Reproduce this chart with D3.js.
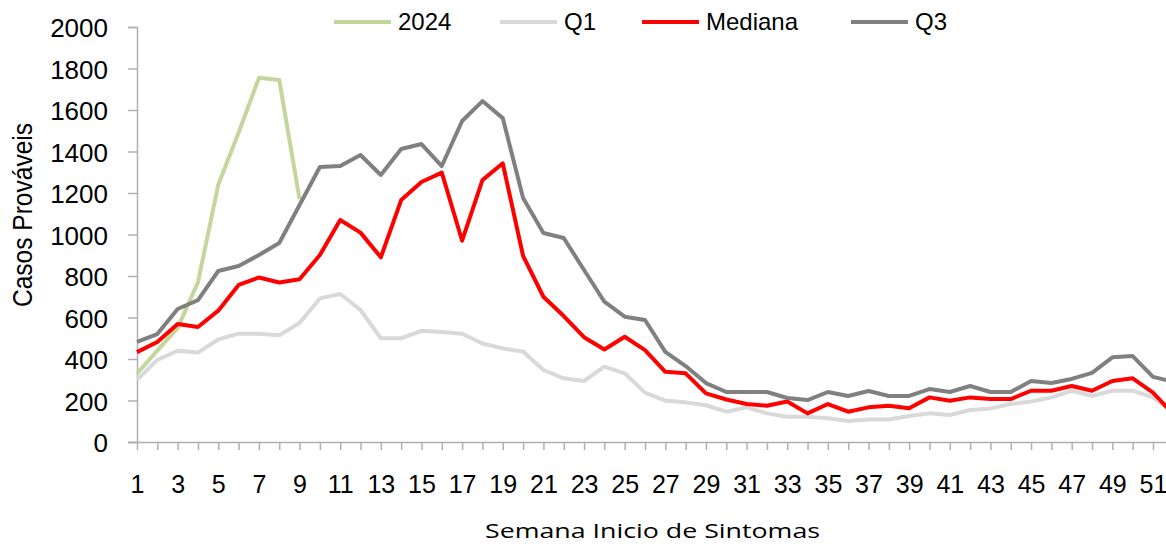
<!DOCTYPE html>
<html>
<head>
<meta charset="utf-8">
<script src="https://cdn.jsdelivr.net/npm/d3@7"></script>
<style>
  body { margin: 0; background: #fff; }
  svg { display: block; }
  text { font-family: "Liberation Sans", Arial, sans-serif; fill: #000; }
</style>
</head>
<body>
<svg id="chart"></svg>
<script>
const weeks = d3.range(1, 53);
const yTicks = [0, 200, 400, 600, 800, 1000, 1200, 1400, 1600, 1800, 2000];

const cases2024 = [330, 440, 550, 770, 1240, 1490, 1755, 1745, 1170];

const q1 = [300, 396, 440, 431, 494, 522, 522, 514, 574, 692,
  713, 636, 500, 500, 536, 530, 522, 475, 451, 436,
  347, 307, 294, 363, 331, 238, 199, 191, 177, 146,
  167, 138, 122, 122, 114, 101, 108, 108, 125, 138,
  130, 154, 162, 183, 195, 215, 247, 222, 247, 247,
  215, 140];

const mediana = [433, 482, 569, 554, 633, 757, 793, 769, 784, 901,
  1070, 1009, 890, 1166, 1253, 1298, 970, 1262, 1343, 897,
  700, 607, 505, 446, 507, 443, 338, 331, 234, 205,
  183, 175, 195, 138, 183, 146, 167, 175, 163, 215,
  199, 215, 207, 207, 247, 247, 270, 247, 294, 307,
  238, 135];

const q3 = [482, 520, 641, 684, 824, 848, 901, 959, 1142, 1325,
  1330, 1383, 1287, 1412, 1436, 1330, 1547, 1643, 1561, 1176,
  1007, 983, 829, 676, 604, 588, 434, 366, 284, 241,
  241, 241, 212, 202, 241, 222, 246, 222, 222, 255,
  241, 270, 241, 241, 294, 284, 304, 333, 408, 414,
  314, 290];

const series = [
  { name: "2024", values: cases2024, color: "#c3d69b" },
  { name: "Q1", values: q1, color: "#d9d9d9" },
  { name: "Mediana", values: mediana, color: "#ff0000" },
  { name: "Q3", values: q3, color: "#808080" }
];

const width = 1166;
const height = 545;
const plotLeft = 137;
const plotTop = 27;
const plotBottom = 442;
const step = 20.32;

const svg = d3.select("#chart").attr("width", width).attr("height", height);

const x = d3.scalePoint()
  .domain(weeks)
  .range([plotLeft, plotLeft + step * (weeks.length - 1)]);

const y = d3.scaleLinear()
  .domain([0, 2000])
  .range([plotBottom, plotTop]);

// y axis
const yAxis = svg.append("g")
  .attr("transform", `translate(${plotLeft},0)`)
  .call(d3.axisLeft(y).tickValues(yTicks).tickSize(9).tickPadding(20).tickFormat(d3.format("d")));
yAxis.select(".domain").attr("stroke", "#b0b0b0").attr("stroke-width", 1.5);
yAxis.selectAll(".tick line").attr("stroke", "#b0b0b0").attr("stroke-width", 1.5);
yAxis.selectAll(".tick text").style("font-size", "26px").attr("dy", "0.38em");

// x axis
const xAxis = svg.append("g")
  .attr("transform", `translate(0,${plotBottom})`)
  .call(d3.axisBottom(x)
    .tickValues(weeks)
    .tickSize(8)
    .tickSizeOuter(0)
    .tickFormat(d => (d % 2 === 1 ? d : "")));
xAxis.select(".domain").attr("stroke", "#b0b0b0").attr("stroke-width", 1.5)
  .attr("d", `M${plotLeft - 9},0.5H${width}`);
xAxis.selectAll(".tick line").attr("stroke", "#b0b0b0").attr("stroke-width", 1.5);
xAxis.selectAll(".tick text")
  .style("font-size", "25px")
  .attr("y", 51)
  .attr("dy", 0);

// lines
const line = d3.line()
  .x((d, i) => x(weeks[i]))
  .y(d => y(d));

svg.append("g")
  .selectAll("path")
  .data(series)
  .enter()
  .append("path")
  .attr("fill", "none")
  .attr("stroke", d => d.color)
  .attr("stroke-width", 4)
  .attr("stroke-linejoin", "round")
  .attr("d", d => line(d.values));

// legend
const legendX = [334, 500, 642, 851];
const legend = svg.append("g")
  .selectAll("g")
  .data(series)
  .enter()
  .append("g")
  .attr("transform", (d, i) => `translate(${legendX[i]},22)`);
legend.append("line")
  .attr("x1", 0).attr("x2", 57)
  .attr("stroke", d => d.color)
  .attr("stroke-width", 4);
legend.append("text")
  .attr("x", 64)
  .attr("dy", "0.35em")
  .style("font-size", "24px")
  .text(d => d.name);

// axis titles
svg.append("text")
  .attr("transform", "translate(32,215) rotate(-90)")
  .attr("text-anchor", "middle")
  .attr("textLength", 184)
  .attr("lengthAdjust", "spacingAndGlyphs")
  .style("font-size", "28px")
  .text("Casos Prováveis");

svg.append("text")
  .attr("x", 485)
  .attr("y", 538)
  .attr("textLength", 335)
  .attr("lengthAdjust", "spacingAndGlyphs")
  .style("font-family", "'Open Sans', sans-serif")
  .style("font-size", "20px")
  .text("Semana Inicio de Sintomas");
</script>
</body>
</html>
